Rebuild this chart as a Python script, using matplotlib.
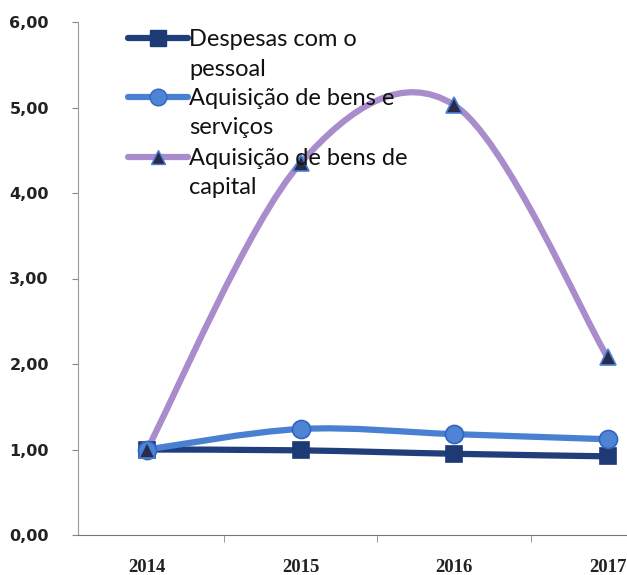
import matplotlib.pyplot as plt
import numpy as np
from matplotlib.path import Path
from matplotlib.patches import PathPatch
from matplotlib.ticker import FuncFormatter

years = ["2014", "2015", "2016", "2017"]
despesas_pessoal = [1.00, 0.99, 0.95, 0.92]
bens_servicos = [1.00, 1.24, 1.18, 1.12]
bens_capital = [1.00, 4.35, 5.03, 2.08]

labels = ["Despesas com o\npessoal", "Aquisição de bens e\nserviços", "Aquisição de bens de\ncapital"]


def smooth_path(xs, ys):
    # Excel-style smoothed line: cubic Bezier through the points
    pts = np.column_stack([xs, ys]).astype(float)
    n = len(pts)
    verts = [pts[0]]
    codes = [Path.MOVETO]
    for i in range(n - 1):
        p0 = pts[max(i - 1, 0)]
        p1 = pts[i]
        p2 = pts[i + 1]
        p3 = pts[min(i + 2, n - 1)]
        verts += [p1 + (p2 - p0) / 6, p2 - (p3 - p1) / 6, p2]
        codes += [Path.CURVE4] * 3
    return Path(verts, codes)


fig = plt.figure(figsize=(6.27, 5.75), dpi=100)
ax = fig.add_axes([78 / 627, 1 - 535 / 575, 1 - 78 / 627, (535 - 22) / 575])

x = np.arange(len(years))
styles = [
    (despesas_pessoal, "#213e7c", "s", 12, "#1e3a75", "#1e3a75"),
    (bens_servicos, "#4a80d2", "o", 13, "#4f84d4", "#2f66c0"),
    (bens_capital, "#a88ccb", "^", 11, "#2a2a4c", "#4a80d2"),
]
for z, (vals, lc, mk, ms, mfc, mec) in enumerate(styles):
    patch = PathPatch(smooth_path(x, vals), fill=False, edgecolor=lc, lw=4.5,
                      capstyle="round", joinstyle="round", zorder=2 + z)
    ax.add_patch(patch)
    ax.plot(x, vals, linestyle="none", marker=mk, markersize=ms,
            markerfacecolor=mfc, markeredgecolor=mec, markeredgewidth=1.2,
            zorder=5 + z, clip_on=False)

ax.set_xlim(-0.45, (627 - 147) / 153.5)
ax.set_ylim(0, 6)
ax.set_yticks(np.arange(0, 7, 1))
ax.yaxis.set_major_formatter(FuncFormatter(lambda v, p: f"{v:.2f}".replace(".", ",")))
ax.set_xticks(x)
ax.set_xticklabels(years)
ax.set_xticks([0.5, 1.5, 2.5], minor=True)
ax.tick_params(axis="x", which="major", length=0, pad=17)
ax.tick_params(axis="x", which="minor", length=5, color="#888888", direction="out")
ax.tick_params(axis="y", length=4, color="#888888", pad=17)
for t in ax.get_yticklabels():
    t.set_fontweight("bold")
    t.set_fontsize(11.5)
    t.set_color("#222222")
for t in ax.get_xticklabels():
    t.set_fontweight("bold")
    t.set_family("Liberation Serif")
    t.set_fontsize(13.5)
    t.set_color("#222222")

for s in ["top", "right"]:
    ax.spines[s].set_visible(False)
ax.spines["left"].set_color("#999999")
ax.spines["bottom"].set_color("#777777")

# legend, drawn by hand so the handle sits on the first text line
legend_y = [38, 97, 157]
for (vals, lc, mk, ms, mfc, mec), lab, y in zip(styles, labels, legend_y):
    fy = 1 - y / 575
    fig.add_artist(plt.Line2D([128 / 627, 188 / 627], [fy, fy], color=lc, lw=4.5,
                              solid_capstyle="round", transform=fig.transFigure))
    fig.add_artist(plt.Line2D([158 / 627], [fy], marker=mk, markersize=ms - 1,
                              markerfacecolor=mfc, markeredgecolor=mec,
                              transform=fig.transFigure))
    fig.text(189 / 627, fy + 9 / 575, lab, fontsize=17, family="Lato",
             va="top", ha="left", linespacing=1.5, color="#111111")

fig.savefig("out.png", dpi=100)
